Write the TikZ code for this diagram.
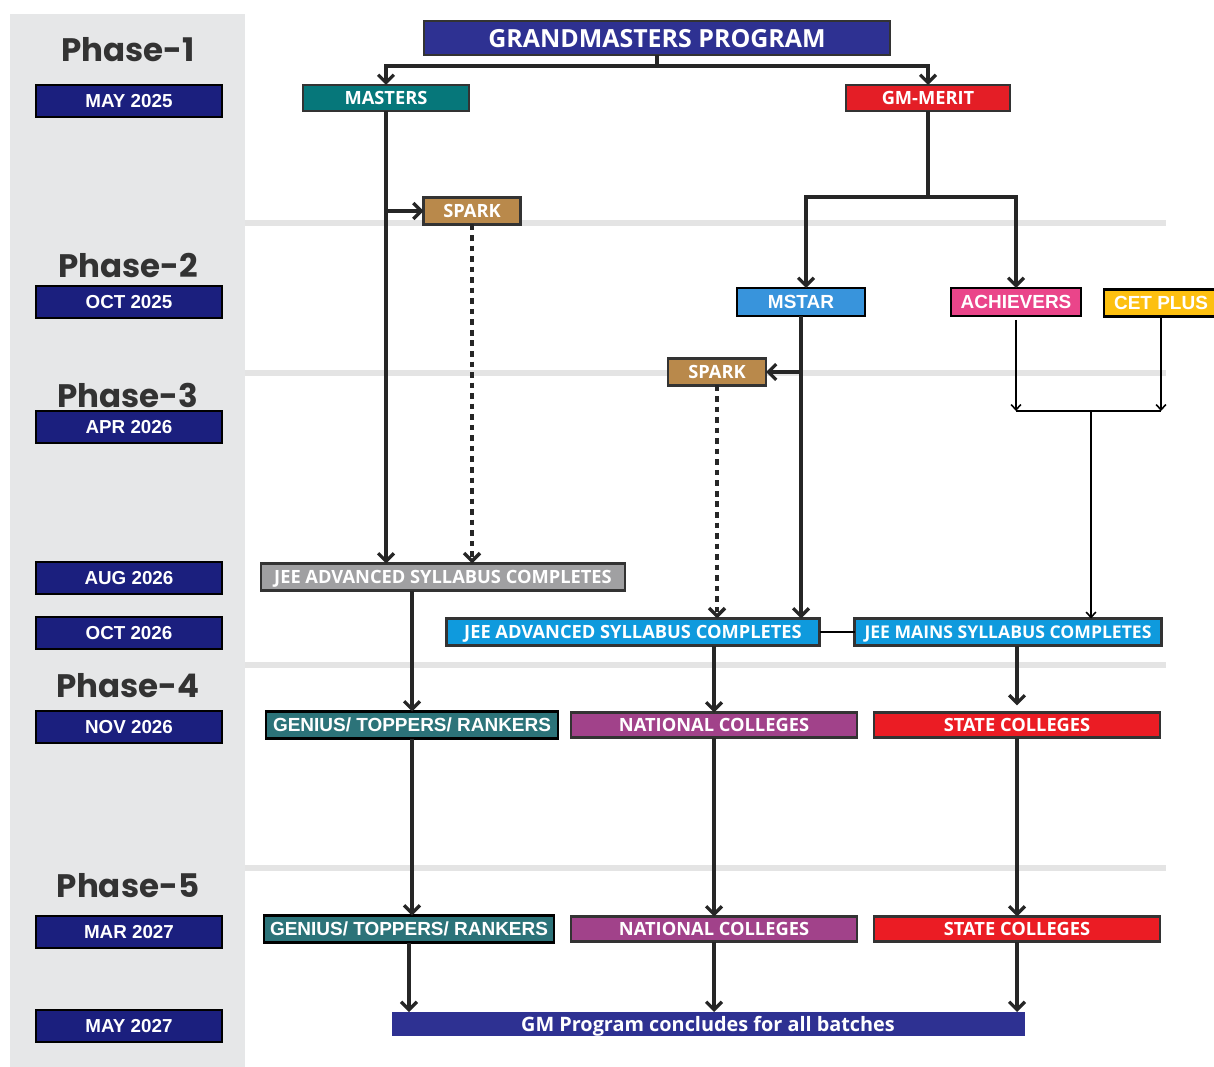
\documentclass[tikz,border=0pt]{standalone}
\usepackage{fontspec}
\setmainfont{Liberation Sans}
\newfontfamily\osans{Open Sans}
\newfontfamily\phasefont{Poppins}
\usetikzlibrary{arrows.meta}

\definecolor{datenavy}{HTML}{1B1F7E}
\definecolor{gmnavy}{HTML}{2E3192}
\definecolor{teal}{HTML}{06777A}
\definecolor{meritred}{HTML}{E41E26}
\definecolor{sparkbrown}{HTML}{B9894B}
\definecolor{mstarblue}{HTML}{3894DC}
\definecolor{pink}{HTML}{EA458A}
\definecolor{cetyellow}{HTML}{FDC010}
\definecolor{jeegrey}{HTML}{A0A0A2}
\definecolor{jeeblue}{HTML}{0F9ADD}
\definecolor{genteal}{HTML}{2C7379}
\definecolor{natpurple}{HTML}{A1428A}
\definecolor{statered}{HTML}{EB1C24}
\definecolor{panel}{HTML}{E6E7E8}
\definecolor{sepgrey}{HTML}{E4E4E4}

\tikzset{
  every node/.style={inner sep=0pt, outer sep=0pt},
  sz/.style 2 args={minimum width=#1*0.02cm, minimum height=#2*0.02cm},
  phase/.style={text=black!80, font=\phasefont\fontsize{18.5}{20}\selectfont\bfseries},
  datebox/.style={draw=black, line width=1.6pt, fill=datenavy, text=white,
    sz={186}{32}, font=\fontsize{10.7}{12}\selectfont\bfseries},
  card/.style={draw=black!80, line width=1.2pt, text=white, text depth=0pt,
    font=\osans\fontsize{10.4}{11}\selectfont\bfseries},
  acard/.style={draw=black, line width=1.4pt, text=white,
    font=\fontsize{10.8}{12}\selectfont\bfseries},
  link/.style={line width=1.9pt, draw=black!85, -{Straight Barb[length=4.5pt,width=9pt]}},
  thinlink/.style={line width=0.9pt, draw=black, -{Straight Barb[length=3pt,width=5.5pt]}},
  dashlink/.style={link, line width=2pt, dash pattern=on 3.2pt off 2.8pt}
}

\begin{document}
\begin{tikzpicture}[x=0.02cm, y=-0.02cm]
\useasboundingbox (0,0) rectangle (1214,1067);

% phase background
\fill[panel] (10,14) rectangle (245,1067);
\foreach \y in {223,373,665,868}
  \fill[sepgrey] (245,\y-3) rectangle (1166,\y+3);

% phases and dates
\node[phase] (ph1) at (128,50) {Phase-1};
\node[phase] (ph2) at (128,266) {Phase-2};
\node[phase] (ph3) at (128,395) {Phase-3};
\node[phase] (ph4) at (128,686) {Phase-4};
\node[phase] (ph5) at (128,886) {Phase-5};

\node[datebox] (d1) at (129,101) {MAY 2025};
\node[datebox] (d2) at (129,302) {OCT 2025};
\node[datebox] (d3) at (129,427) {APR 2026};
\node[datebox] (d4) at (129,578) {AUG 2026};
\node[datebox] (d5) at (129,633) {OCT 2026};
\node[datebox] (d6) at (129,727) {NOV 2026};
\node[datebox] (d7) at (129,932) {MAR 2027};
\node[datebox] (d8) at (129,1026) {MAY 2027};

% programme boxes
\node[card, fill=gmnavy, sz={466}{34}, font=\osans\fontsize{14.2}{15}\selectfont\bfseries] (gmp) at (657,38) {GRANDMASTERS PROGRAM};
\node[card, fill=teal, sz={166}{26}] (masters) at (386,98) {MASTERS};
\node[card, fill=meritred, sz={164}{26}] (merit) at (928,98) {GM-MERIT};
\node[card, fill=sparkbrown, sz={97}{27}] (sparkA) at (472,211) {SPARK};
\node[acard, fill=mstarblue, sz={128}{28}] (mstar) at (801,302) {MSTAR};
\node[acard, fill=pink, sz={130}{28}] (achievers) at (1016,302) {ACHIEVERS};
\node[acard, fill=cetyellow, sz={114}{27}] (cetplus) at (1161,303) {CET PLUS\hspace{0.1cm}};
\node[card, fill=sparkbrown, sz={98}{27}] (sparkB) at (717,372) {SPARK};

\node[card, fill=jeegrey, sz={364}{27}] (jeeA) at (443,577) {JEE ADVANCED SYLLABUS COMPLETES};
\node[card, fill=jeeblue, sz={373}{27}] (jeeB) at (633,632) {JEE ADVANCED SYLLABUS COMPLETES};
\node[card, fill=jeeblue, sz={307}{27}, font=\osans\fontsize{10}{11}\selectfont\bfseries] (mains) at (1008,632) {JEE MAINS SYLLABUS COMPLETES};

\node[acard, fill=genteal, sz={292}{27}] (genA) at (412,725) {GENIUS/ TOPPERS/ RANKERS};
\node[card, fill=natpurple, sz={286}{25}] (natA) at (714,725) {NATIONAL COLLEGES};
\node[card, fill=statered, sz={286}{25}] (stateA) at (1017,725) {STATE COLLEGES};
\node[acard, fill=genteal, sz={290}{27}] (genB) at (409,929) {GENIUS/ TOPPERS/ RANKERS};
\node[card, fill=natpurple, sz={286}{25}] (natB) at (714,929) {NATIONAL COLLEGES};
\node[card, fill=statered, sz={286}{25}] (stateB) at (1017,929) {STATE COLLEGES};

\node[card, draw=none, fill=gmnavy, sz={633}{24}, font=\osans\fontsize{11.3}{12}\selectfont\bfseries] (ends) at (708,1024) {GM Program concludes for all batches};

% connectors
\draw[link] (gmp.south) -- ++(0,11) -| (masters.north);
\draw[link] (gmp.south) -- ++(0,11) -| (merit.north);
\draw[link] (masters.south) -- (masters.south |- jeeA.north);
\draw[link] (masters.south |- sparkA.west) -- (sparkA.west);
\draw[dashlink] (sparkA.south) -- (sparkA.south |- jeeA.north);
\draw[link] (merit.south) -- ++(0,86) -| ([xshift=0.1cm]mstar.north);
\draw[link] (merit.south) -- ++(0,86) -| (achievers.north);
\draw[link] (mstar.south) -- (mstar.south |- jeeB.north);
\draw[link] (mstar.south |- sparkB.east) -- (sparkB.east);
\draw[dashlink] (sparkB.south) -- (sparkB.south |- jeeB.north);

\coordinate (join) at (1091,411);
\draw[thinlink] ([yshift=-0.08cm]achievers.south) -- (achievers.south |- join);
\draw[thinlink] (cetplus.south) -- (cetplus.south |- join);
\draw[line width=0.9pt] (achievers.south |- join) -- (cetplus.south |- join);
\draw[thinlink] (join) -- (join |- mains.north);
\draw[line width=0.9pt] (jeeB.east) -- (mains.west);

\draw[link] (genA.north |- jeeA.south) -- (genA.north);
\draw[link] (natA.north |- jeeB.south) -- (natA.north);
\draw[link, shorten >=4pt] (stateA.north |- mains.south) -- (stateA.north);
\draw[link] (genA.south) -- (genA.south |- genB.north);
\draw[link] (natA.south) -- (natB.north);
\draw[link] (stateA.south) -- (stateB.north);
\draw[link] (genB.south) -- (genB.south |- ends.north);
\draw[link] (natB.south) -- (natB.south |- ends.north);
\draw[link] (stateB.south) -- (stateB.south |- ends.north);
\end{tikzpicture}
\end{document}
